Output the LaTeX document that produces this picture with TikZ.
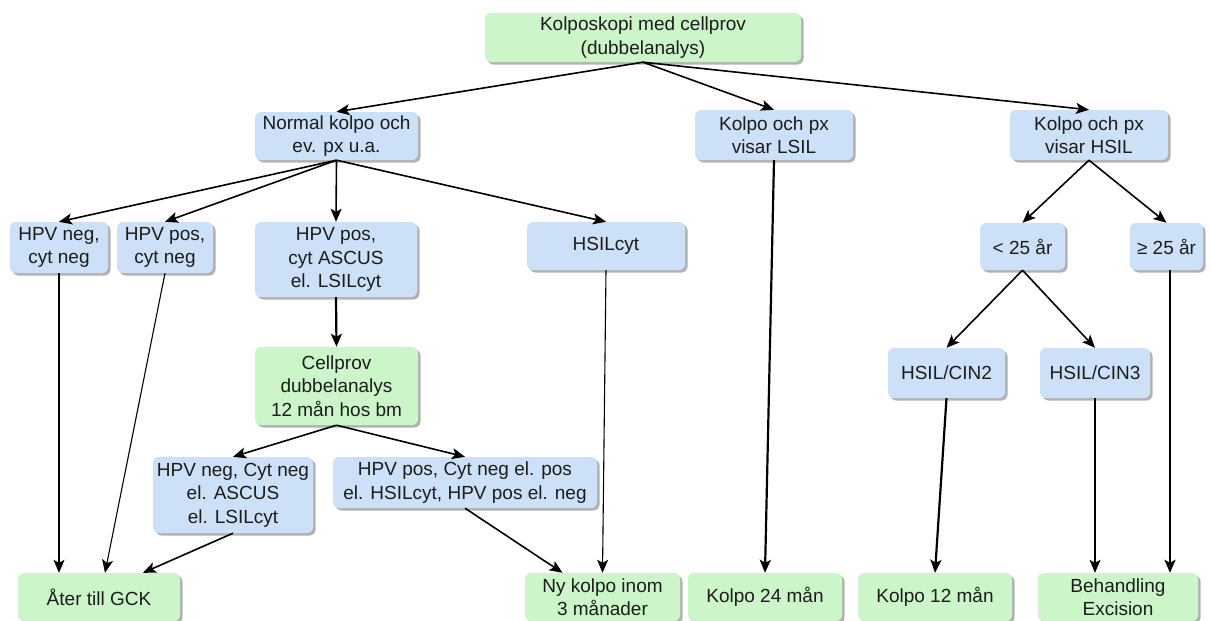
\documentclass[tikz,border=0pt]{standalone}
\usepackage{fontspec}
\setmainfont{Liberation Sans}
\usetikzlibrary{arrows.meta,shadows,calc}
\definecolor{gfill}{RGB}{204,246,202}
\definecolor{bfill}{RGB}{204,225,248}
\definecolor{txt}{RGB}{28,28,28}
\tikzset{
  box/.style={rounded corners=6pt, inner sep=0pt, align=center, text=txt,
    font=\fontsize{19}{23.5}\selectfont,
    drop shadow={shadow xshift=2.5pt, shadow yshift=-2.5pt, fill=black, opacity=0.3}},
  gbox/.style={box, fill=gfill},
  bbox/.style={box, fill=bfill},
  tip/.style={-{Stealth[length=13pt,width=11pt,inset=3pt]}},
  conn/.style={draw=black, line width=1.6pt, tip},
  thinconn/.style={draw=black, line width=1.1pt, tip},
  thickconn/.style={draw=black, line width=2.2pt, tip}
}
\begin{document}
\begin{tikzpicture}[x=1pt,y=-1pt]
\useasboundingbox (0,0) rectangle (1210,621);
\fill[white] (0,0) rectangle (1210,621);

% level 0
\node[gbox, minimum width=316pt, minimum height=49pt] (top) at (643,37.5) {Kolposkopi med cellprov\\(dubbelanalys)};

% level 1
\node[bbox, minimum width=163pt, minimum height=48pt] (normal) at (336.5,136) {Normal kolpo och\\ev. px u.a.};
\node[bbox, minimum width=158pt, minimum height=50pt] (lsil) at (774,135) {Kolpo och px\\visar LSIL};
\node[bbox, minimum width=158pt, minimum height=50pt] (hsil) at (1089,135) {Kolpo och px\\visar HSIL};

% level 2
\node[bbox, minimum width=98pt, minimum height=51pt] (hpvneg) at (59,247.5) {HPV neg,\\cyt neg};
\node[bbox, minimum width=96pt, minimum height=51pt] (hpvpos) at (165,247.5) {HPV pos,\\cyt neg};
\node[bbox, minimum width=162pt, minimum height=75pt] (ascus) at (336,259.5) {HPV pos,\\cyt ASCUS\\el. LSILcyt};
\node[bbox, minimum width=158pt, minimum height=48pt] (hsilcyt) at (606,246) {HSILcyt};
\node[bbox, minimum width=85pt, minimum height=47pt] (lt25) at (1022.5,246.5) {< 25 år};
\node[bbox, minimum width=73pt, minimum height=47pt] (ge25) at (1166.5,246.5) {≥ 25 år};

% level 3
\node[gbox, minimum width=163pt, minimum height=78pt] (cellprov) at (336.5,386) {Cellprov\\dubbelanalys\\12 mån hos bm};
\node[bbox, minimum width=117pt, minimum height=50pt] (cin2) at (946.5,373) {HSIL/CIN2};
\node[bbox, minimum width=110pt, minimum height=50pt] (cin3) at (1095,373) {HSIL/CIN3};

% level 4
\node[bbox, minimum width=160pt, minimum height=76pt] (negcyt) at (233,495) {HPV neg, Cyt neg\\el. ASCUS\\el. LSILcyt};
\node[bbox, minimum width=264pt, minimum height=51pt] (poscyt) at (465,482.5) {HPV pos, Cyt neg el. pos\\el. HSILcyt, HPV pos el. neg};

% outcomes
\node[gbox, minimum width=162pt, minimum height=48pt] (gck) at (99,597) {Åter till GCK};
\node[gbox, minimum width=155pt, minimum height=48pt] (nykolpo) at (602.5,597) {Ny kolpo inom\\3 månader};
\node[gbox, minimum width=154pt, minimum height=48pt] (k24) at (765,597) {Kolpo 24 mån};
\node[gbox, minimum width=154pt, minimum height=48pt] (k12) at (935,597) {Kolpo 12 mån};
\node[gbox, minimum width=160pt, minimum height=48pt] (beh) at (1118,597) {Behandling\\Excision};

% connectors
\draw[conn] (top.south) -- (normal.north);
\draw[conn] (top.south) -- (lsil.north);
\draw[conn] (top.south) -- (hsil.north);

\draw[conn] (normal.south) -- (hpvneg.north);
\draw[conn] (normal.south) -- (hpvpos.north);
\draw[conn] (normal.south) -- (ascus.north);
\draw[conn] (normal.south) -- (hsilcyt.north);

\draw[thinconn] (hpvneg.south) -- (hpvneg.south |- gck.north);
\draw[thinconn] (hpvpos.south) -- ([xshift=6pt]gck.north);
\draw[thickconn] (ascus.south) -- (cellprov.north);
\draw[conn] (cellprov.south) -- (negcyt.north);
\draw[conn] (cellprov.south) -- (poscyt.north);
\draw[conn] (negcyt.south) -- ([xshift=44pt]gck.north);
\draw[conn] (poscyt.south) -- ([xshift=-40pt]nykolpo.north);
\draw[thinconn] (hsilcyt.south) -- (nykolpo.north);

\draw[thickconn] (lsil.south) -- (k24.north);

\draw[conn] (hsil.south) -- (lt25.north);
\draw[conn] (hsil.south) -- (ge25.north);
\draw[conn] (lt25.south) -- (cin2.north);
\draw[conn] (lt25.south) -- (cin3.north);
\draw[thickconn] (cin2.south) -- (k12.north);
\draw[thinconn] (cin3.south) -- (cin3.south |- beh.north);
\draw[thickconn] ([xshift=3.5pt]ge25.south) -- ([xshift=3.5pt]ge25.south |- beh.north);
\end{tikzpicture}
\end{document}
